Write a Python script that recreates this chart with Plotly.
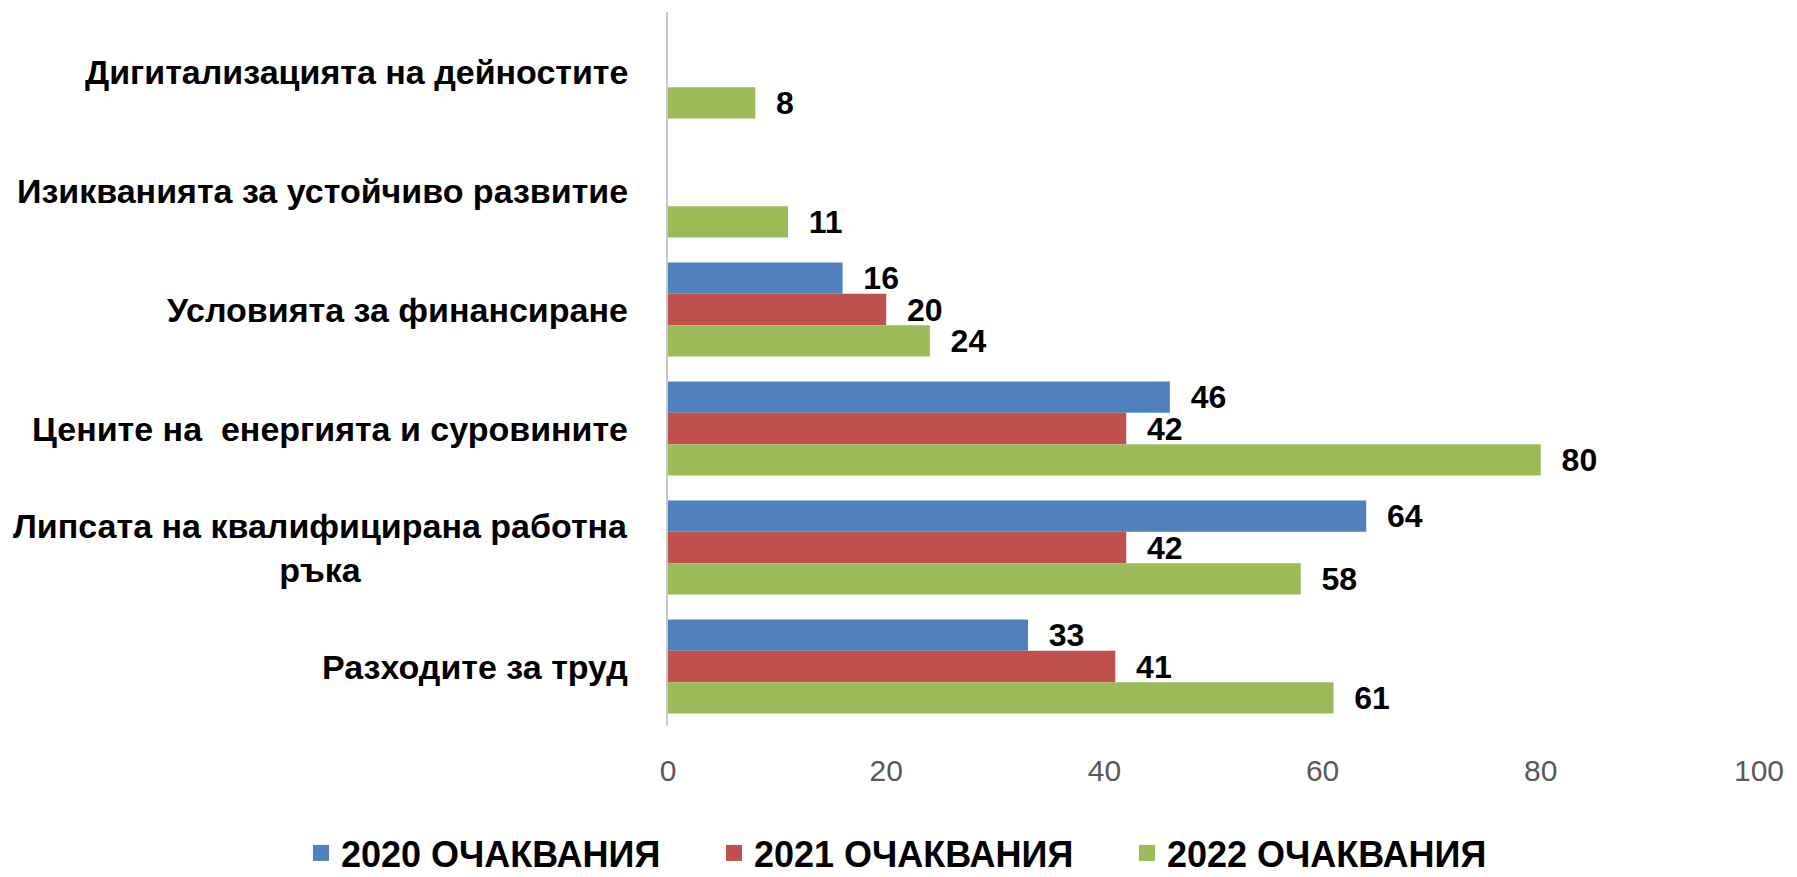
import plotly.graph_objects as go

categories = [
    "Дигитализацията на дейностите",
    "Изикванията за устойчиво развитие",
    "Условията за финансиране",
    "Цените на  енергията и суровините",
    "Липсата на квалифицирана работна<br>ръка",
    "Разходите за труд",
]
series_names = ["2020 ОЧАКВАНИЯ", "2021 ОЧАКВАНИЯ", "2022 ОЧАКВАНИЯ"]
values_2020 = [None, None, 16, 46, 64, 33]
values_2021 = [None, None, 20, 42, 42, 41]
values_2022 = [8, 11, 24, 80, 58, 61]
colors = ["#4F81BD", "#C0504D", "#9BBB59"]
x_ticks = [0, 20, 40, 60, 80, 100]

FONT = "Liberation Sans Narrow, Liberation Sans, Arial Narrow, sans-serif"

fig = go.Figure()
for name, vals, col in zip(series_names, [values_2020, values_2021, values_2022], colors):
    fig.add_trace(go.Bar(
        y=categories, x=vals, orientation="h", name=name,
        marker=dict(color=col, line=dict(width=0)),
        texttemplate="\u00a0\u00a0%{x}",
        textposition="outside", constraintext="none", cliponaxis=False,
        textfont=dict(family=FONT, size=32, color="#000000", weight="bold"),
        showlegend=False, hoverinfo="x+name",
    ))
    fig.add_trace(go.Scatter(
        x=[None], y=[None], mode="markers", name=name,
        marker=dict(symbol="square", size=16, color=col),
        showlegend=True, hoverinfo="skip",
    ))

for cat in categories:
    fig.add_annotation(
        x=0, xref="paper", y=cat, yref="y", xanchor="right", yanchor="middle",
        xshift=-38, text=cat, showarrow=False, align="center",
        font=dict(family=FONT, size=34, color="#000000", weight="bold"),
    )

fig.update_layout(
    width=1789, height=869,
    margin=dict(l=660, r=38, t=4, b=151, autoexpand=False),
    barmode="group", bargap=0.21, bargroupgap=0,
    plot_bgcolor="white", paper_bgcolor="white",
    font=dict(family=FONT),
    xaxis=dict(
        range=[0, 100], tickvals=x_ticks, showgrid=False, zeroline=False,
        showline=False, ticks="", ticklabelstandoff=24,
        tickfont=dict(family=FONT, size=30, color="#595959"),
    ),
    yaxis=dict(
        autorange="reversed", showticklabels=False, showgrid=False,
        zeroline=False, showline=True, linecolor="#C8C8C8", linewidth=2,
        ticks="",
    ),
    legend=dict(
        orientation="h", xref="paper", yref="paper",
        x=-0.3364, xanchor="left", y=-0.1779, yanchor="middle",
        font=dict(family=FONT, size=36, color="#000000", weight="bold"),
        entrywidth=368, entrywidthmode="pixels", traceorder="normal",
        itemsizing="trace", bgcolor="rgba(0,0,0,0)",
    ),
)

fig.write_html("out.html")
